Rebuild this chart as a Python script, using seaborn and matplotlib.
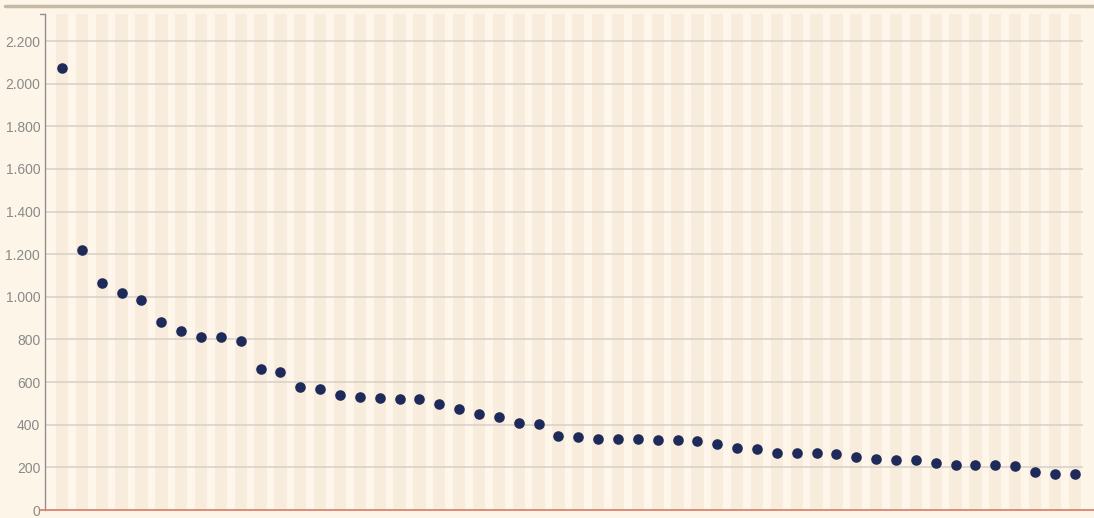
import numpy as np
import pandas as pd
import matplotlib
matplotlib.use("Agg")
import matplotlib.pyplot as plt
import matplotlib.ticker as mticker
from matplotlib.lines import Line2D
import seaborn as sns

# data (sorted values, 52 items)
values = [2072, 1218, 1063, 1018, 986, 880, 841, 810, 810, 793,
          660, 647, 578, 566, 539, 529, 524, 521, 519, 499,
          475, 449, 436, 410, 403, 346, 342, 332, 332, 332,
          328, 328, 324, 308, 292, 285, 269, 267, 266, 264,
          247, 241, 236, 233, 222, 211, 211, 210, 205, 180,
          169, 169]
y_ticks = [0, 200, 400, 600, 800, 1000, 1200, 1400, 1600, 1800, 2000, 2200]

df = pd.DataFrame({"rank": np.arange(len(values)), "value": values})

# colours
bg = "#fdf5e8"
stripe_light = "#fef6ea"
stripe_dark = "#f8ecdc"
dot = "#1e2a5a"
grid_col = "#d9d2ca"
label_col = "#8a8a8a"

sns.set_style("white")
plt.rcParams["font.family"] = ["Liberation Sans", "DejaVu Sans"]

fig = plt.figure(figsize=(10.94, 5.18), dpi=100, facecolor=bg)
ax = fig.add_axes([45 / 1094, 8 / 518, (1083 - 45) / 1094, (510 - 14) / 518])
ax.set_facecolor(stripe_light)

# vertical band per category
for i in df["rank"]:
    ax.axvspan(i - 0.31, i + 0.31, color=stripe_dark, lw=0, zorder=0)

# horizontal grid
for t in y_ticks[1:]:
    ax.axhline(t, color=grid_col, lw=1.2, zorder=1)

sns.scatterplot(data=df, x="rank", y="value", ax=ax, color=dot, s=58,
                edgecolor=dot, linewidth=0, zorder=3)

ax.set_xlim(-0.86, 51.42)
ax.set_ylim(0, 2327)
ax.set_xlabel("")
ax.set_ylabel("")
ax.set_xticks([])
ax.set_yticks(y_ticks)
ax.yaxis.set_major_formatter(mticker.FuncFormatter(lambda v, p: f"{int(v):,}".replace(",", ".")))
ax.tick_params(axis="y", length=0, pad=3.5, labelsize=10, labelcolor=label_col)

for side in ["top", "right", "bottom"]:
    ax.spines[side].set_visible(False)
ax.spines["left"].set_color("#8f8f8f")
ax.spines["left"].set_linewidth(1)

# zero line, top cap and zero tick
fig.add_artist(Line2D([40 / 1094, 1.0], [8 / 518, 8 / 518], color="#d8846c", lw=1.3))
fig.add_artist(Line2D([40 / 1094, 45 / 1094], [504 / 518, 504 / 518], color="#8f8f8f", lw=1))
# brown band at the top
fig.add_artist(Line2D([5 / 1094, 1.0], [512 / 518, 512 / 518], color="#c5b9a5", lw=2.5))

fig.savefig("out.png", dpi=100, facecolor=bg)
